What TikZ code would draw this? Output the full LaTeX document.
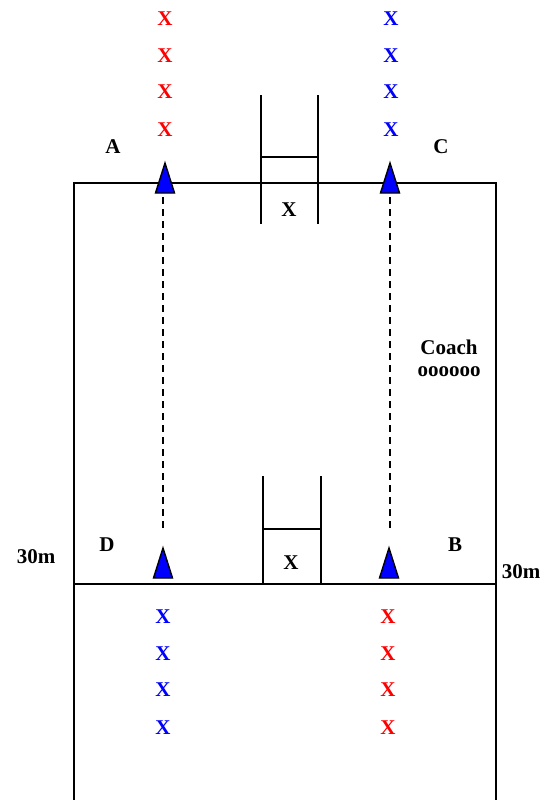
\documentclass[tikz,border=0pt]{standalone}
\usepackage{fontspec}
\setmainfont{Liberation Serif}
\begin{document}
\begin{tikzpicture}[x=1pt,y=-1pt,
  every node/.style={font=\fontsize{21}{25}\selectfont\bfseries, inner sep=0pt},
  line/.style={line width=2pt},
  redx/.style={text=red},
  bluex/.style={text=blue},
  cone/.style={minimum width=19pt, minimum height=30pt, outer sep=0pt},
  conefill/.style={fill=blue, draw=black, line width=1.4pt, line join=miter},
  run/.style={dashed, line width=1.5pt, dash pattern=on 7pt off 5pt},
]
\useasboundingbox (0,0) rectangle (554,800);
\fill[white] (0,0) rectangle (554,800);

% pitch
\draw[line] (74,800) -- (74,183) -- (496,183) -- (496,800);
\draw[line] (74,584) -- (496,584);

% top goal
\draw[line] (261,95) -- (261,224);
\draw[line] (318,95) -- (318,224);
\draw[line width=1.8pt] (261,157) -- (318,157);
\node (gx1) at (289,210) {X};

% bottom goal
\draw[line] (263,476) -- (263,584);
\draw[line] (321,476) -- (321,584);
\draw[line width=1.8pt] (263,529) -- (321,529);
\node (gx2) at (291,563) {X};

% cones
\node[cone] (cA) at (165,178) {};
\node[cone] (cC) at (390,178) {};
\node[cone] (cD) at (163,563) {};
\node[cone] (cB) at (389,563) {};
\foreach \n in {cA,cC,cD,cB}
  \filldraw[conefill] (\n.south west) -- (\n.north) -- (\n.south east) -- cycle;

% runs
\draw[run, shorten <=4pt, shorten >=16pt] (cD.north |- cA.south) -- (cD.north);
\draw[run, shorten <=4pt, shorten >=16pt] (cC.south) -- (cC.south |- cB.north);

% players
\foreach \y [count=\i] in {19,56,92,130} {
  \node[redx] (ra\i) at (165,\y) {X};
  \node[bluex] (bc\i) at (391,\y) {X};
}
\foreach \y [count=\i] in {617,654,690,728} {
  \node[bluex] (bd\i) at (163,\y) {X};
  \node[redx] (rb\i) at (388,\y) {X};
}

% labels
\node (lA) at (113,147) {A};
\node (lC) at (441,147) {C};
\node (lD) at (107,545) {D};
\node (lB) at (455,545) {B};
\node (m1) at (36,557) {30m};
\node (m2) at (521,572) {30m};
\node (coach) at (449,347) {Coach};
\node (oo) at (449,372) {oooooo};
\end{tikzpicture}
\end{document}
